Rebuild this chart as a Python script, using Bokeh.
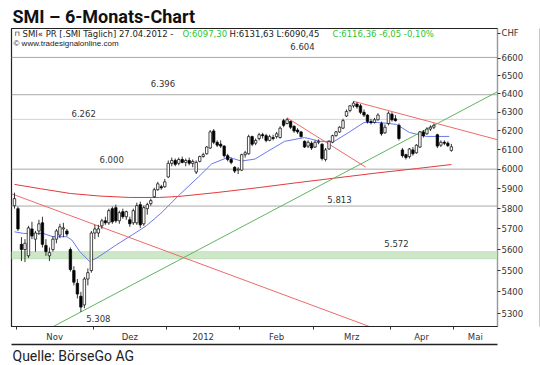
import math
from bokeh.plotting import figure
from bokeh.models import (Range1d, FixedTicker, PrintfTickFormatter, Label, BoxAnnotation,
                          ColumnDataSource, Span, Title, LogAxis, LinearAxis)
from bokeh.embed import file_html
from bokeh.resources import INLINE

# ---------------- data (trading-day index 0 = 31.10.2011 ... 125 = 27.04.2012) -------------
opens = [5815, 5800, 5625, 5600, 5570, 5700, 5650, 5690, 5730, 5620,
         5570, 5600, 5650, 5670, 5700, 5690, 5600, 5500, 5440, 5380,
         5340, 5460, 5500, 5680, 5680, 5715, 5740, 5730, 5800, 5805,
         5740, 5785, 5760, 5745, 5730, 5730, 5820, 5725, 5800, 5825,
         5860, 5895, 5910, 5910, 5960, 6030, 6045, 6030, 6050, 6035,
         6045, 6030, 5985, 6040, 6065, 6080, 6110, 6200, 6140, 6130,
         6120, 6070, 6050, 6010, 5995, 5995, 6075, 6080, 6170, 6135,
         6160, 6180, 6175, 6150, 6165, 6170, 6165, 6255, 6240, 6250,
         6225, 6205, 6195, 6145, 6120, 6135, 6115, 6140, 6130, 6050,
         6105, 6140, 6175, 6195, 6215, 6280, 6310, 6335, 6345, 6335,
         6300, 6285, 6250, 6245, 6260, 6240, 6190, 6240, 6290, 6265,
         6230, 6100, 6075, 6065, 6100, 6085, 6115, 6195, 6185, 6210,
         6220, 6180, 6125, 6140, 6135, 6097.30]
highs = [5880, 5810, 5660, 5650, 5715, 5735, 5690, 5745, 5760, 5650,
         5610, 5665, 5700, 5725, 5730, 5700, 5610, 5520, 5460, 5400,
         5470, 5510, 5690, 5720, 5720, 5750, 5760, 5800, 5810, 5820,
         5790, 5800, 5790, 5760, 5800, 5830, 5835, 5815, 5830, 5850,
         5905, 5935, 5920, 5950, 6045, 6060, 6055, 6060, 6065, 6055,
         6060, 6050, 6045, 6070, 6085, 6120, 6205, 6210, 6150, 6150,
         6125, 6080, 6060, 6015, 6010, 6080, 6095, 6180, 6175, 6160,
         6190, 6190, 6185, 6180, 6180, 6195, 6225, 6265, 6270, 6255,
         6230, 6215, 6200, 6150, 6150, 6145, 6150, 6155, 6135, 6110,
         6150, 6180, 6200, 6225, 6265, 6315, 6340, 6360, 6355, 6345,
         6315, 6290, 6265, 6270, 6295, 6250, 6235, 6305, 6300, 6285,
         6240, 6110, 6080, 6110, 6115, 6130, 6200, 6205, 6220, 6230,
         6240, 6185, 6150, 6150, 6145, 6131.63]
lows = [5800, 5690, 5545, 5540, 5560, 5650, 5590, 5670, 5610, 5570,
        5545, 5590, 5630, 5655, 5660, 5665, 5495, 5430, 5370, 5308,
        5325, 5430, 5490, 5650, 5660, 5700, 5720, 5720, 5725, 5730,
        5725, 5750, 5745, 5710, 5720, 5720, 5705, 5715, 5770, 5815,
        5855, 5890, 5895, 5905, 5955, 6015, 6015, 6020, 6030, 6015,
        6020, 6010, 5975, 6035, 6060, 6075, 6105, 6130, 6115, 6110,
        6060, 6040, 6025, 5980, 5975, 5990, 6060, 6075, 6120, 6125,
        6150, 6160, 6140, 6145, 6150, 6160, 6160, 6220, 6235, 6210,
        6190, 6185, 6165, 6110, 6110, 6100, 6110, 6130, 6045, 6040,
        6100, 6135, 6170, 6190, 6210, 6275, 6300, 6325, 6320, 6290,
        6275, 6240, 6235, 6240, 6255, 6175, 6185, 6230, 6250, 6250,
        6150, 6060, 6050, 6055, 6070, 6080, 6110, 6165, 6180, 6200,
        6210, 6110, 6115, 6125, 6115, 6090.45]
closes = [5850, 5700, 5600, 5630, 5705, 5665, 5680, 5725, 5625, 5590,
          5585, 5650, 5690, 5710, 5705, 5675, 5505, 5445, 5390, 5330,
          5460, 5490, 5680, 5700, 5700, 5740, 5730, 5790, 5735, 5740,
          5780, 5760, 5785, 5725, 5790, 5815, 5720, 5805, 5820, 5840,
          5895, 5925, 5905, 5935, 6030, 6045, 6025, 6050, 6035, 6045,
          6030, 6040, 6035, 6065, 6075, 6115, 6195, 6140, 6125, 6120,
          6070, 6050, 6035, 5990, 6000, 6075, 6085, 6170, 6130, 6150,
          6180, 6175, 6150, 6170, 6160, 6185, 6215, 6230, 6260, 6220,
          6200, 6195, 6170, 6115, 6140, 6110, 6140, 6145, 6055, 6100,
          6145, 6175, 6195, 6220, 6255, 6305, 6335, 6350, 6330, 6300,
          6285, 6250, 6245, 6260, 6285, 6185, 6220, 6295, 6260, 6255,
          6160, 6070, 6060, 6105, 6080, 6125, 6195, 6175, 6210, 6220,
          6230, 6120, 6140, 6135, 6122.41, 6116.36]

# month starts (trading-day index) and axis labels
month_start_idx = [1, 23, 44, 65, 86, 108, 126]
month_labels = ["Nov", "Dez", "2012", "Feb", "Mrz", "Apr", "Mai"]
price_ticks = list(range(5300, 6700, 100))

# 20-day average (blue) and 200-day average (red)
ma20_idx = [0, 2.6, 5.1, 8.2, 11, 15, 16.4, 18.7, 21.5, 23.5, 29.2, 33.7, 37.7, 41.9,
            47, 52.7, 56.4, 61.2, 64.9, 68.8, 72.5, 77.3, 83, 87.5, 91.5, 95.2, 100,
            104.5, 109.3, 113, 117.8, 124.4]
ma20_val = [5686, 5678, 5678, 5678, 5662, 5662, 5646, 5590, 5543, 5559, 5623, 5671, 5715,
            5777, 5866, 5961, 6027, 6062, 6042, 6052, 6093, 6145, 6165, 6145, 6145, 6187,
            6245, 6245, 6235, 6192, 6171, 6171]
ma200_idx = [0, 7.5, 16, 24.5, 33, 41.5, 47, 58, 70, 81, 92.5, 104, 115, 125]
ma200_val = [5922, 5900, 5876, 5863, 5856, 5856, 5861, 5881, 5906, 5931, 5956, 5981, 6003, 6024]

# marked price levels
level_values = [6604, 6396, 6262, 6000, 5813, 5572, 5308]
level_text = ["6.604", "6.396", "6.262", "6.000", "5.813", "5.572", "5.308"]
band_low, band_high = 5555, 5590

# trend lines: anchor points (index, price)
trend_green = [(19, 5308), (120, 6230)]
trend_red1 = [(0, 5869), (100, 5251)]
trend_red2 = [(78, 6270), (100, 6016)]
trend_red3 = [(97, 6360), (137.7, 6156)]

# ---------------- figure -------------------------------------------------------------------
SMALL = "DejaVu Sans"
X0, X1 = -0.85, 138.2
Y0, Y1 = 5242, 6770
p = figure(width=540, height=365, output_backend="svg", toolbar_location=None,
           y_axis_type="log", y_axis_location="right",
           x_range=Range1d(X0, X1), y_range=Range1d(Y0, Y1),
           min_border_left=11, min_border_right=38, min_border_top=28, min_border_bottom=36)
p.background_fill_color = "white"
p.border_fill_color = "white"
p.outline_line_color = "#222222"
p.outline_line_width = 1.2
p.xgrid.visible = False
p.ygrid.visible = False

# main title
p.title.text = "SMI \u2013 6-Monats-Chart"
p.title.text_font = "Roboto"
p.title.text_font_size = "18px"
p.title.text_font_style = "bold"
p.title.text_color = "#111111"
p.title.align = "left"
p.title.offset = 1
p.title.standoff = 3

# y axis (right); "CHF" sits as the top label of the price scale
chf_pos = Y1 * math.exp(-5 / 1176.7)
yax = p.yaxis[0]
yax.ticker = FixedTicker(ticks=price_ticks + [chf_pos])
yax.formatter = PrintfTickFormatter(format="%d")
yax.major_label_overrides = {chf_pos: "CHF"}
yax.major_tick_in = 0
yax.major_tick_out = 3
yax.major_tick_line_color = "#333333"
yax.minor_tick_line_color = None
yax.axis_line_color = "#9a9a9a"
yax.major_label_text_font = SMALL
yax.major_label_text_font_size = "8.5px"
yax.major_label_text_color = "#333333"
yax.major_label_standoff = 1
yax.axis_label = " "
yax.axis_label_standoff = 0
yax.axis_label_text_font_size = "9.5px"

# x axis: labels mid-month, tick marks at month boundaries
bounds = [m - 0.5 for m in month_start_idx]
mids = [(bounds[k] + bounds[k + 1]) / 2 for k in range(len(bounds) - 1)] + [(bounds[-1] + X1) / 2]
xax = p.xaxis[0]
xax.ticker = FixedTicker(ticks=mids, minor_ticks=bounds)
xax.major_label_overrides = {m: lab for m, lab in zip(mids, month_labels)}
xax.major_tick_in = 0
xax.major_tick_out = 0
xax.minor_tick_in = 0
xax.minor_tick_out = 3
xax.minor_tick_line_color = "#333333"
xax.axis_line_color = "#222222"
xax.major_label_text_font = SMALL
xax.major_label_text_font_size = "8.5px"
xax.major_label_text_color = "#333333"
xax.major_label_standoff = 2

# outer box: right and bottom edges drawn as bare axes beyond the labels
def bare(axis_cls):
    return axis_cls(ticker=FixedTicker(ticks=[]), major_tick_in=0, major_tick_out=0,
                    minor_tick_in=0, minor_tick_out=0, major_label_text_font_size="0px",
                    axis_line_color="#222222", axis_line_width=1.5)

p.add_layout(bare(LogAxis), "right")
p.add_layout(bare(LinearAxis), "below")

# source line below the chart
p.add_layout(Title(text="Quelle: B\u00f6rseGo AG", align="left", text_font="Roboto",
                   text_font_size="14px", text_font_style="normal", text_color="#222222",
                   standoff=3, offset=1), "below")

# level lines
for lv, dash in zip(level_values[:5], ["solid", "solid", "1 1", "solid", "solid"]):
    p.add_layout(Span(location=lv, dimension="width", line_color="#a8a8a8", line_width=1,
                      line_dash=dash, level="underlay"))
p.add_layout(BoxAnnotation(bottom=band_low, top=band_high, fill_color="#cfe7c9", fill_alpha=1,
                           line_color="#8dc487", line_width=1, level="underlay"))

label_x = [82.4, 42.5, 19.8, 27.8, 93.0, 109.3, 24.0]
label_dy = [-7, -8, -2, -6, -3, -8, 3]
for xx, lv, tx, dy in zip(label_x, level_values, level_text, label_dy):
    p.add_layout(Label(x=xx, y=lv, text=tx, text_align="center",
                       text_baseline="bottom" if dy < 0 else "top",
                       y_offset=-dy, text_font=SMALL, text_font_size="8.5px",
                       text_color="#333333"))

# moving averages
p.line(ma200_idx, ma200_val, line_color="#e23a3a", line_width=1)
p.line(ma20_idx, ma20_val, line_color="#6a78ec", line_width=1)

# trend lines (straight in log space)
def trend(anchors, xa, xb):
    (i0, v0), (i1, v1) = anchors
    s = (math.log(v1) - math.log(v0)) / (i1 - i0)
    return [xa, xb], [v0 * math.exp(s * (xa - i0)), v0 * math.exp(s * (xb - i0))]

for anchors, xa, xb, col in [(trend_green, X0, X1, "#62b462"),
                             (trend_red1, X0, 103, "#ee6a6a"),
                             (trend_red2, 78, 100.5, "#ee6a6a"),
                             (trend_red3, 97, X1, "#ee6a6a")]:
    xs, ys = trend(anchors, xa, xb)
    p.line(xs, ys, line_color=col, line_width=1)

# candles
idx = list(range(len(closes)))
src = ColumnDataSource(dict(
    x=idx, h=highs, l=lows,
    top=[max(o, c) for o, c in zip(opens, closes)],
    bot=[min(o, c) for o, c in zip(opens, closes)],
    fill=["white" if c >= o else "black" for o, c in zip(opens, closes)]))
p.segment(x0="x", y0="l", x1="x", y1="h", source=src, line_color="black", line_width=0.8)
p.vbar(x="x", width=0.7, top="top", bottom="bot", source=src, fill_color="fill",
       line_color="black", line_width=0.7)

# header texts inside the chart box (canvas units)
def clabel(x, y, text, size="8.5px", color="#222222", font=SMALL):
    p.add_layout(Label(x=x, y=y, x_units="canvas", y_units="canvas", text=text,
                       text_font=font, text_font_size=size, text_color=color,
                       text_baseline="middle"))

clabel(14, 33, "\u2293", size="7px")
clabel(22, 33, "SMI\u00ab PR [.SMI  T\u00e4glich] 27.04.2012 - ")
clabel(182, 33, "O:6097,30", color="#2ec62e")
clabel(229, 33, "H:6131,63 L:6090,45")
clabel(332, 33, "C:6116,36 -6,05 -0,10%", color="#2ec62e")
clabel(13, 43, "\u00a9 www.tradesignalonline.com", size="8px", font="Liberation Sans")

open("out.html", "w").write(file_html(p, INLINE))
